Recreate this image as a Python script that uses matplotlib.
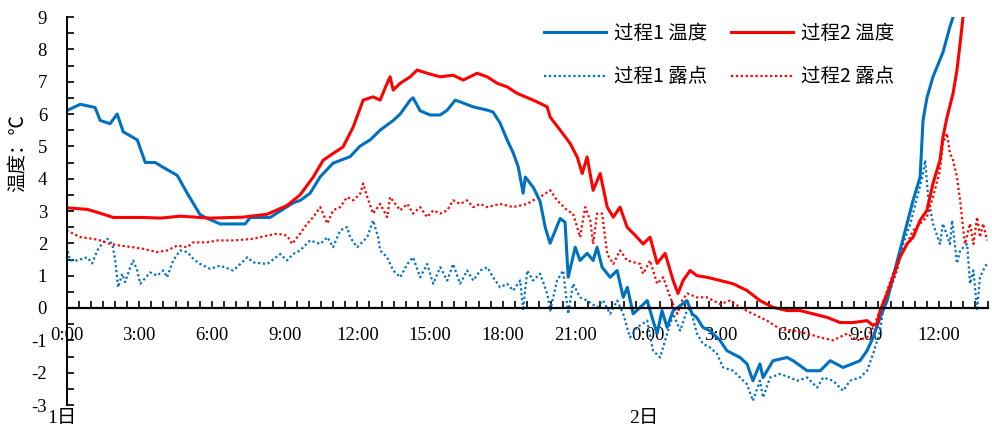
import numpy as np
import matplotlib
matplotlib.use('Agg')
from matplotlib import pyplot as plt
from matplotlib.ticker import FixedLocator, MultipleLocator

plt.rcParams['axes.unicode_minus'] = False

# 过程1 温度 (时间: 小时, 从1日0:00起)
t1_h = [0, 0.28, 0.57, 1.18, 1.39, 1.8, 2.09, 2.34, 2.92, 3.25,
        3.66, 3.99, 4.57, 4.98, 5.5, 5.72, 6.34, 7.37, 7.58, 8.4,
        9.35, 9.65, 10.05, 10.47, 11.0, 11.7, 12.1, 12.53, 12.94, 13.48,
        13.77, 14.18, 14.3, 14.59, 15.0, 15.42, 15.71, 16.04, 16.37, 16.78,
        17.36, 17.6, 17.89, 18.18, 18.43, 18.64, 18.84, 18.93, 19.26, 19.54,
        19.75, 19.95, 20.37, 20.57, 20.7, 20.99, 21.19, 21.48, 21.73, 21.89,
        22.1, 22.43, 22.72, 22.97, 23.14, 23.38, 23.67, 23.96, 24.2, 24.37,
        24.57, 24.78, 25.03, 25.23, 25.6, 25.81, 26.0, 26.26, 26.55, 26.96,
        27.25, 27.5, 27.79, 28.08, 28.32, 28.61, 28.74, 29.15, 29.73, 29.98,
        30.56, 31.1, 31.51, 32.04, 32.74, 33.03, 33.28, 33.57, 33.86, 34.1,
        34.39, 34.68, 34.93, 35.22, 35.34, 35.5, 35.75, 36.16, 36.45, 36.58,
        36.8, 37.0]
t1_v = [6.1, 6.2, 6.3, 6.2, 5.8, 5.7, 6.0, 5.45, 5.2, 4.5,
        4.5, 4.35, 4.1, 3.55, 2.9, 2.8, 2.6, 2.6, 2.8, 2.8,
        3.25, 3.33, 3.55, 4.06, 4.48, 4.68, 5.0, 5.2, 5.5, 5.8,
        6.0, 6.43, 6.5, 6.1, 5.97, 5.97, 6.12, 6.43, 6.34, 6.22,
        6.12, 6.06, 5.72, 5.2, 4.8, 4.36, 3.55, 4.05, 3.73, 3.3,
        2.5, 2.0, 2.77, 2.65, 0.95, 1.88, 1.47, 1.69, 1.47, 1.88,
        1.26, 0.95, 1.16, 0.33, 0.64, -0.18, 0.02, 0.23, -0.39, -0.79,
        -0.08, -0.6, -0.08, 0.02, 0.23, -0.18, -0.29, -0.6, -0.7, -1.0,
        -1.32, -1.42, -1.53, -1.73, -2.25, -1.73, -2.15, -1.63, -1.53, -1.63,
        -1.94, -1.94, -1.63, -1.84, -1.63, -1.32, -0.91, -0.29, 0.23, 0.95,
        1.78, 2.61, 3.33, 4.05, 5.8, 6.5, 7.15, 7.9, 8.7, 9.0,
        9.4, 9.8]

# 过程2 温度
t2_h = [0, 0.86, 1.27, 1.93, 3.16, 3.87, 4.69, 5.93, 7.29, 8.28,
        9.1, 9.64, 10.18, 10.59, 11.0, 11.41, 11.83, 12.24, 12.65, 12.94,
        13.23, 13.35, 13.48, 13.77, 14.18, 14.47, 14.88, 15.42, 15.95, 16.37,
        16.94, 17.36, 17.77, 18.18, 18.59, 19.25, 19.54, 19.83, 19.96, 20.37,
        20.78, 21.07, 21.28, 21.48, 21.73, 22.02, 22.31, 22.56, 22.84, 23.13,
        23.54, 23.79, 24.08, 24.37, 24.7, 25.03, 25.23, 25.44, 25.73, 26.01,
        26.43, 26.97, 27.5, 28.08, 28.61, 29.15, 29.73, 30.27, 30.8, 31.38,
        31.92, 32.46, 33.03, 33.28, 33.45, 33.57, 33.86, 34.1, 34.39, 34.68,
        34.93, 35.22, 35.5, 35.75, 36.04, 36.16, 36.33, 36.58, 36.74, 36.87,
        36.99, 37.2]
t2_v = [3.1, 3.05, 2.96, 2.8, 2.8, 2.78, 2.84, 2.78, 2.81, 2.9,
        3.17, 3.5, 4.05, 4.57, 4.78, 4.98, 5.6, 6.43, 6.53, 6.43,
        6.95, 7.15, 6.74, 6.95, 7.15, 7.36, 7.26, 7.15, 7.2, 7.05,
        7.26, 7.15, 6.95, 6.84, 6.64, 6.43, 6.33, 6.22, 5.9, 5.5,
        5.09, 4.67, 4.16, 4.67, 3.64, 4.16, 3.12, 2.81, 3.12, 2.5,
        2.19, 1.98, 2.19, 1.38, 1.69, 0.85, 0.45, 0.85, 1.16, 1.0,
        0.95, 0.85, 0.75, 0.54, 0.23, 0.02, -0.08, -0.08, -0.18, -0.29,
        -0.45, -0.45, -0.39, -0.54, -0.48, -0.08, 0.45, 0.95, 1.57, 1.98,
        2.19, 2.71, 3.02, 3.85, 4.57, 5.28, 5.9, 6.64, 7.36, 8.18,
        9.0, 9.5]

# 过程1 露点
d1_h = [0, 0.15, 0.44, 0.85, 1.06, 1.27, 1.51, 1.68, 1.89, 2.01,
        2.13, 2.3, 2.42, 2.63, 2.75, 2.92, 3.04, 3.16, 3.45, 3.74,
        3.99, 4.15, 4.4, 4.69, 4.98, 5.23, 5.52, 5.93, 6.34, 6.88,
        7.17, 7.46, 7.7, 8.28, 8.82, 9.1, 9.35, 9.64, 10.05, 10.47,
        10.76, 11.0, 11.29, 11.58, 11.7, 11.99, 12.41, 12.65, 12.86, 12.94,
        13.23, 13.48, 13.77, 14.06, 14.3, 14.59, 14.88, 15.13, 15.42, 15.71,
        15.95, 16.24, 16.53, 16.78, 17.07, 17.36, 17.6, 17.89, 18.18, 18.43,
        18.72, 18.84, 19.01, 19.25, 19.54, 19.83, 19.96, 20.24, 20.49, 20.7,
        20.9, 21.19, 21.48, 21.89, 22.14, 22.43, 22.72, 22.97, 23.25, 23.54,
        23.96, 24.2, 24.49, 24.7, 25.03, 25.32, 25.6, 25.73, 26.01, 26.26,
        26.55, 26.84, 27.09, 27.5, 27.79, 28.08, 28.32, 28.61, 28.74, 29.03,
        29.44, 29.85, 30.15, 30.56, 30.97, 31.22, 31.63, 32.04, 32.33, 32.74,
        33.03, 33.28, 33.57, 33.69, 33.98, 34.27, 34.52, 34.82, 35.1, 35.31,
        35.43, 35.55, 35.75, 36.04, 36.16, 36.45, 36.54, 36.74, 36.87, 37.16,
        37.28, 37.42, 37.57, 37.69, 37.82, 37.98]
d1_v = [1.9, 1.47, 1.47, 1.57, 1.38, 1.78, 2.03, 2.14, 1.98, 1.47,
        0.64, 1.06, 0.8, 1.26, 1.47, 1.16, 0.75, 0.85, 1.1, 1.0,
        1.16, 0.95, 1.47, 1.78, 1.73, 1.52, 1.36, 1.21, 1.31, 1.16,
        1.36, 1.57, 1.41, 1.36, 1.67, 1.47, 1.67, 1.78, 2.09, 1.98,
        2.19, 1.88, 2.4, 2.5, 2.19, 1.88, 2.19, 2.71, 2.19, 1.78,
        1.57, 1.16, 0.95, 1.36, 1.57, 0.95, 1.36, 0.75, 1.26, 0.85,
        1.36, 0.75, 1.16, 0.85, 1.16, 1.26, 0.95, 0.64, 0.75, 0.54,
        0.85, -0.08, 1.16, 0.85, 1.06, 0.45, -0.08, 0.85, 1.16, -0.18,
        0.75, 0.33, 0.23, 0.02, 0.23, -0.18, 0.23, -0.18, -0.91, -0.6,
        -0.39, -1.32, -1.53, -1.0, -0.18, -0.7, -0.08, 0.02, -0.79, -1.11,
        -1.22, -1.42, -1.84, -1.94, -2.15, -2.36, -2.87, -2.25, -2.77, -2.15,
        -2.04, -2.15, -2.25, -2.15, -2.46, -2.15, -2.25, -2.56, -2.25, -2.15,
        -1.94, -1.42, -0.7, -0.08, 0.54, 1.16, 1.98, 2.61, 3.43, 4.05,
        4.57, 3.43, 2.61, 1.98, 2.61, 1.98, 2.71, 1.38, 1.78, 1.98,
        0.75, 1.16, -0.08, 0.95, 1.16, 1.38]

# 过程2 露点
d2_h = [0, 0.28, 0.57, 1.1, 1.39, 1.8, 2.21, 2.75, 3.16, 3.74,
        4.15, 4.57, 4.98, 5.23, 5.8, 6.22, 6.88, 7.7, 8.28, 8.69,
        9.1, 9.31, 9.52, 9.64, 9.93, 10.18, 10.47, 10.76, 11.0, 11.29,
        11.58, 11.83, 12.12, 12.24, 12.41, 12.65, 12.94, 13.23, 13.35, 13.77,
        14.06, 14.3, 14.59, 14.88, 15.13, 15.42, 15.71, 15.95, 16.24, 16.53,
        16.78, 17.07, 17.36, 17.89, 18.43, 19.01, 19.25, 19.54, 19.96, 20.24,
        20.66, 20.9, 21.07, 21.19, 21.4, 21.61, 21.73, 21.89, 22.1, 22.31,
        22.56, 22.84, 23.13, 23.67, 23.79, 24.08, 24.37, 24.62, 24.91, 25.2,
        25.4, 25.61, 26.01, 26.43, 26.97, 27.38, 27.79, 28.32, 28.9, 29.44,
        29.98, 30.56, 31.1, 31.63, 32.21, 32.62, 33.03, 33.28, 33.57, 33.86,
        34.1, 34.39, 34.68, 34.93, 35.22, 35.5, 35.75, 36.04, 36.16, 36.33,
        36.45, 36.58, 36.74, 36.87, 36.99, 37.07, 37.28, 37.42, 37.57, 37.69,
        37.82, 37.98]
d2_v = [2.4, 2.3, 2.19, 2.14, 2.09, 1.98, 1.93, 1.88, 1.83, 1.73,
        1.78, 1.93, 1.88, 2.03, 2.03, 2.09, 2.09, 2.14, 2.24, 2.3,
        2.24, 1.98, 2.19, 2.3, 2.61, 2.81, 3.12, 2.61, 3.02, 3.12,
        3.43, 3.33, 3.54, 3.85, 3.43, 2.92, 3.22, 2.81, 3.43, 3.02,
        3.22, 2.92, 3.12, 2.81, 3.02, 2.92, 3.02, 3.33, 3.22, 3.33,
        3.12, 3.22, 3.12, 3.22, 3.12, 3.22, 3.33, 3.43, 3.64, 3.33,
        3.02, 2.92, 2.5, 2.19, 3.12, 2.71, 1.98, 2.92, 2.92, 1.67,
        1.36, 1.78, 1.47, 1.36, 1.06, 1.47, 0.75, 0.95, 0.33, -0.18,
        0.23, 0.45, 0.33, 0.33, 0.12, 0.23, 0.02, -0.18, -0.39, -0.65,
        -0.7, -0.79, -0.91, -1.0, -0.79, -1.0, -0.91, -0.6, -0.08, 0.54,
        1.06, 1.57, 1.98, 2.4, 2.61, 2.81, 3.43, 4.26, 5.09, 5.4,
        4.78, 4.57, 4.05, 3.33, 2.5, 1.98, 2.61, 1.98, 2.81, 2.19,
        2.61, 2.09]

xtick_pos = [0, 3, 6, 9, 12, 15, 18, 21, 24, 27, 30, 33, 36]
xtick_labels = ['0:00', '3:00', '6:00', '9:00', '12:00', '15:00', '18:00',
                '21:00', '0:00', '3:00', '6:00', '9:00', '12:00']
day_labels = ['1日', '2日']
day_pos = [-0.18, 23.8]
names = ['过程1 温度', '过程1 露点', '过程2 温度', '过程2 露点']

blue = '#0070C0'
red = '#FF0000'

fig = plt.figure(figsize=(9.92, 4.28), dpi=100)
ax = fig.add_axes([66.5 / 992, 1 - 405 / 428, 921 / 992, 388 / 428])

dots = (0, (1, 1.2))
p_d1, = ax.plot(d1_h, d1_v, color=blue, lw=1.6, ls=dots)
p_d2, = ax.plot(d2_h, d2_v, color=red, lw=1.6, ls=dots)
p_t1, = ax.plot(t1_h, t1_v, color=blue, lw=2.2)
p_t2, = ax.plot(t2_h, t2_v, color=red, lw=2.2)

ax.set_xlim(0, 38)
ax.set_ylim(-3, 9)
ax.spines['top'].set_visible(False)
ax.spines['right'].set_visible(False)
ax.spines['bottom'].set_position(('data', 0))
ax.spines['bottom'].set_linewidth(1.6)
ax.spines['left'].set_linewidth(1.4)

ax.xaxis.set_major_locator(FixedLocator(xtick_pos))
ax.xaxis.set_minor_locator(MultipleLocator(0.5))
ax.set_xticklabels(xtick_labels, family='Liberation Serif', fontsize=13.5)
ax.yaxis.set_major_locator(MultipleLocator(1))
ax.yaxis.set_minor_locator(MultipleLocator(0.5))
for lab in ax.get_yticklabels():
    lab.set_family('Liberation Serif')
    lab.set_fontsize(13.5)
ax.tick_params(axis='x', which='both', direction='in', length=5, width=1.2, pad=14)
ax.tick_params(axis='y', which='both', direction='in', length=5, width=1.2, pad=14)

for x, s in zip(day_pos, day_labels):
    ax.text(x, -3.43, s, ha='center', va='center', fontsize=14, clip_on=False,
            family=['Liberation Serif', 'Noto Sans CJK SC'])

ax.set_ylabel('温度：℃', family=['Noto Sans CJK SC', 'DejaVu Sans'], fontsize=14)
ax.yaxis.set_label_coords(-0.042, 0.65)

ax.legend([p_t1, p_d1, p_t2, p_d2], names, ncol=2, loc='upper left',
          bbox_to_anchor=(544 / 992, 1 - 23 / 428), bbox_transform=fig.transFigure,
          frameon=False, prop={'family': 'Noto Sans CJK SC', 'size': 14},
          handlelength=3.2, handletextpad=0.4, columnspacing=1.2,
          labelspacing=1.15, borderpad=0, borderaxespad=0)

fig.savefig('out.png', dpi=100)
